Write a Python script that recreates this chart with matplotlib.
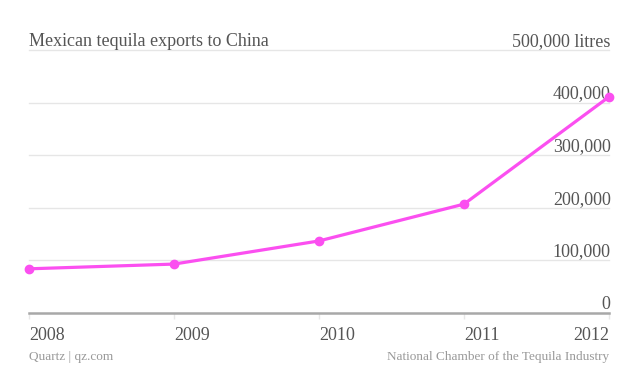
import matplotlib
matplotlib.use("Agg")
import matplotlib.pyplot as plt

years = [2008, 2009, 2010, 2011, 2012]
litres = [84000, 93000, 137000, 207000, 411000]
y_ticks = [0, 100000, 200000, 300000, 400000, 500000]
y_labels = ["0", "100,000", "200,000", "300,000", "400,000", "500,000 litres"]

TEXT = "#555555"; GRID = "#e6e6e6"; PINK = "#fb4ff0"
plt.rcParams.update({"font.family": ["Liberation Serif", "DejaVu Serif"]})

fig = plt.figure(figsize=(6.34, 3.79), dpi=100)
ax = fig.add_axes([29 / 634, 1 - 313 / 379, (609 - 29) / 634, (313 - 50) / 379])
ax.set_xlim(years[0], years[-1])
ax.set_ylim(0, 500000)
for s in ("top", "right", "left"):
    ax.spines[s].set_visible(False)
ax.spines["bottom"].set_color("#a8a8a8")
ax.spines["bottom"].set_linewidth(1.8)

for v in y_ticks[1:]:
    ax.axhline(v, color=GRID, lw=1, zorder=0, clip_on=False)
for v, lab in zip(y_ticks, y_labels):
    ax.annotate(lab, xy=(1.003, v), xycoords=("axes fraction", "data"),
                xytext=(0, 3), textcoords="offset points",
                ha="right", va="baseline", fontsize=13, color=TEXT)

ax.plot(years, litres, color=PINK, lw=2.3, marker="o", ms=6, zorder=5, clip_on=False)

ax.set_yticks([])
ax.set_xticks(years)
ax.set_xticklabels([str(y) for y in years], fontsize=13, color=TEXT)
ax.tick_params(axis="x", length=4.5, width=1, color="#e8e8e8", pad=5.5)
for i, t in enumerate(ax.get_xticklabels()):
    t.set_ha("right" if i == len(years) - 1 else "left")

ax.annotate("Mexican tequila exports to China", xy=(0, 1), xycoords="axes fraction",
            xytext=(0, 3), textcoords="offset points",
            ha="left", va="baseline", fontsize=13, color=TEXT)
fig.text(29 / 634, 1 - 357 / 379, "Quartz | qz.com", ha="left", va="center",
         fontsize=9.5, color="#999999")
fig.text(609 / 634, 1 - 357 / 379, "National Chamber of the Tequila Industry",
         ha="right", va="center", fontsize=9.5, color="#999999")

fig.savefig("out.png", dpi=100)
